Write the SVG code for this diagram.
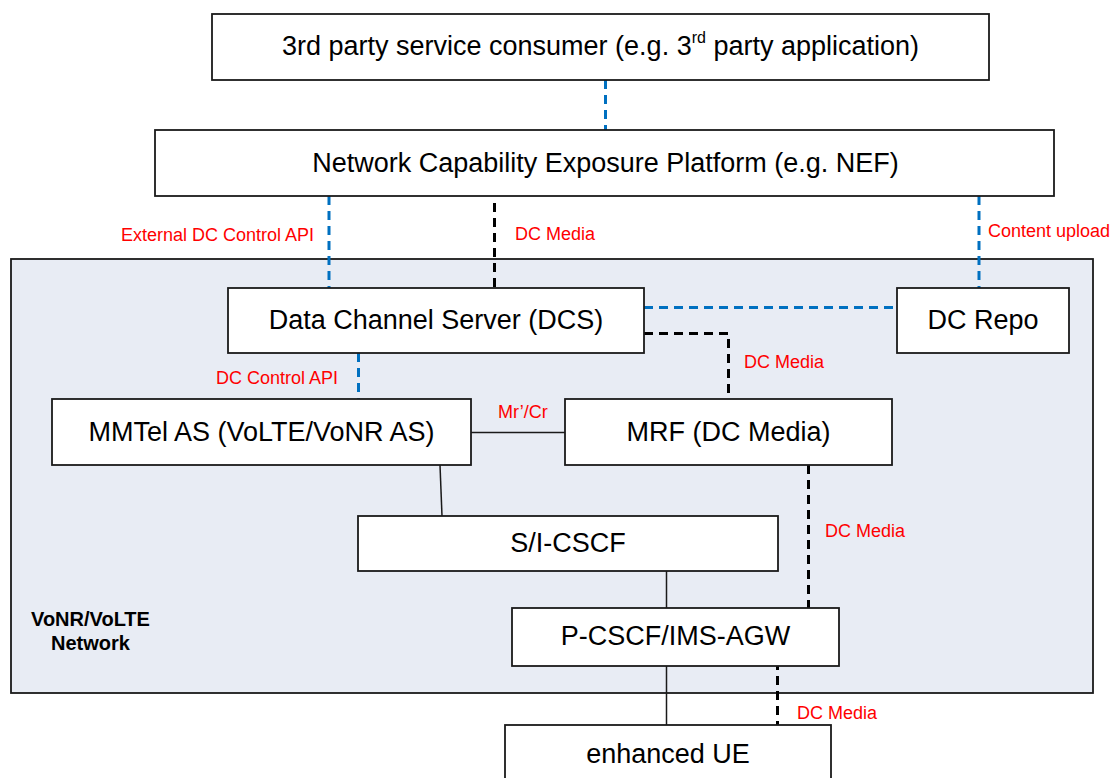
<svg xmlns="http://www.w3.org/2000/svg" width="1112" height="778" viewBox="0 0 1112 778">
<style>
.box{fill:#fff;stroke:#1a1a1a;stroke-width:1.8}
.t{font-family:"Liberation Sans",Arial,sans-serif;font-size:27px;fill:#000;text-anchor:middle}
.lbl{font-family:"Liberation Sans",Arial,sans-serif;font-size:18px;fill:#ff0000}
.blue{stroke:#0070c0;stroke-width:3;stroke-dasharray:9 6;fill:none}
.blk{stroke:#000;stroke-width:3;stroke-dasharray:9 6;fill:none}
.sol{stroke:#1a1a1a;stroke-width:1.5;fill:none}
</style>
<rect id="network-area" x="11" y="259" width="1082" height="434" fill="#e8ecf4" stroke="#1a1a1a" stroke-width="1.8"/>
<g id="connectors">
<line class="blue" x1="605.5" y1="80" x2="605.5" y2="130"/>
<line class="blue" x1="329" y1="196" x2="329" y2="288"/>
<line class="blk" x1="494.5" y1="203" x2="494.5" y2="288"/>
<line class="blue" x1="979" y1="196" x2="979" y2="288"/>
<line class="blue" x1="644" y1="307.5" x2="897" y2="307.5"/>
<polyline class="blk" points="644,333.5 728.5,333.5 728.5,399"/>
<line class="blue" x1="358.5" y1="353" x2="358.5" y2="399"/>
<line class="sol" x1="471" y1="432.5" x2="565" y2="432.5"/>
<line class="sol" x1="440" y1="465" x2="442" y2="516"/>
<line class="blk" x1="808.5" y1="465" x2="808.5" y2="608"/>
<line class="sol" x1="666.5" y1="571" x2="666.5" y2="608"/>
<line class="sol" x1="666.5" y1="666" x2="666.5" y2="725"/>
<line class="blk" x1="777.5" y1="661" x2="777.5" y2="725"/>
<text class="lbl" x="314" y="241" text-anchor="end">External DC Control API</text>
<text class="lbl" x="515" y="240">DC Media</text>
<text class="lbl" x="988" y="237">Content upload</text>
<text class="lbl" x="744" y="368">DC Media</text>
<text class="lbl" x="338" y="384" text-anchor="end">DC Control API</text>
<text class="lbl" x="498" y="418">Mr’/Cr</text>
<text class="lbl" x="825" y="537">DC Media</text>
<text class="lbl" x="797" y="719">DC Media</text>
</g>
<g id="consumer">
<rect class="box" x="212" y="14" width="777" height="66"/>
<text class="t" x="600.5" y="55">3rd party service consumer (e.g. 3<tspan font-size="16" dy="-12">rd</tspan><tspan dy="12"> party application)</tspan></text>
</g>
<g id="nef">
<rect class="box" x="155" y="130" width="899" height="66"/>
<text class="t" x="605.5" y="172">Network Capability Exposure Platform (e.g. NEF)</text>
</g>
<g id="dcs">
<rect class="box" x="228" y="288" width="416" height="65"/>
<text class="t" x="436" y="329">Data Channel Server (DCS)</text>
</g>
<g id="dcrepo">
<rect class="box" x="897" y="288" width="172" height="65"/>
<text class="t" x="983" y="329">DC Repo</text>
</g>
<g id="mmtel">
<rect class="box" x="52" y="399" width="419" height="66"/>
<text class="t" x="261.5" y="441">MMTel AS (VoLTE/VoNR AS)</text>
</g>
<g id="mrf">
<rect class="box" x="565" y="399" width="327" height="66"/>
<text class="t" x="728.5" y="441">MRF (DC Media)</text>
</g>
<g id="scscf">
<rect class="box" x="358" y="516" width="420" height="55"/>
<text class="t" x="568" y="552">S/I-CSCF</text>
</g>
<g id="pcscf">
<rect class="box" x="512" y="608" width="327" height="58"/>
<text class="t" x="675.5" y="645">P-CSCF/IMS-AGW</text>
</g>
<g id="ue">
<rect class="box" x="505" y="725" width="326" height="70"/>
<text class="t" x="668" y="763">enhanced UE</text>
</g>
<g id="network-label">
<text x="90.5" y="626" font-family="'Liberation Sans',Arial,sans-serif" font-size="20" font-weight="bold" text-anchor="middle">VoNR/VoLTE</text>
<text x="90.5" y="650" font-family="'Liberation Sans',Arial,sans-serif" font-size="20" font-weight="bold" text-anchor="middle">Network</text>
</g>
</svg>
